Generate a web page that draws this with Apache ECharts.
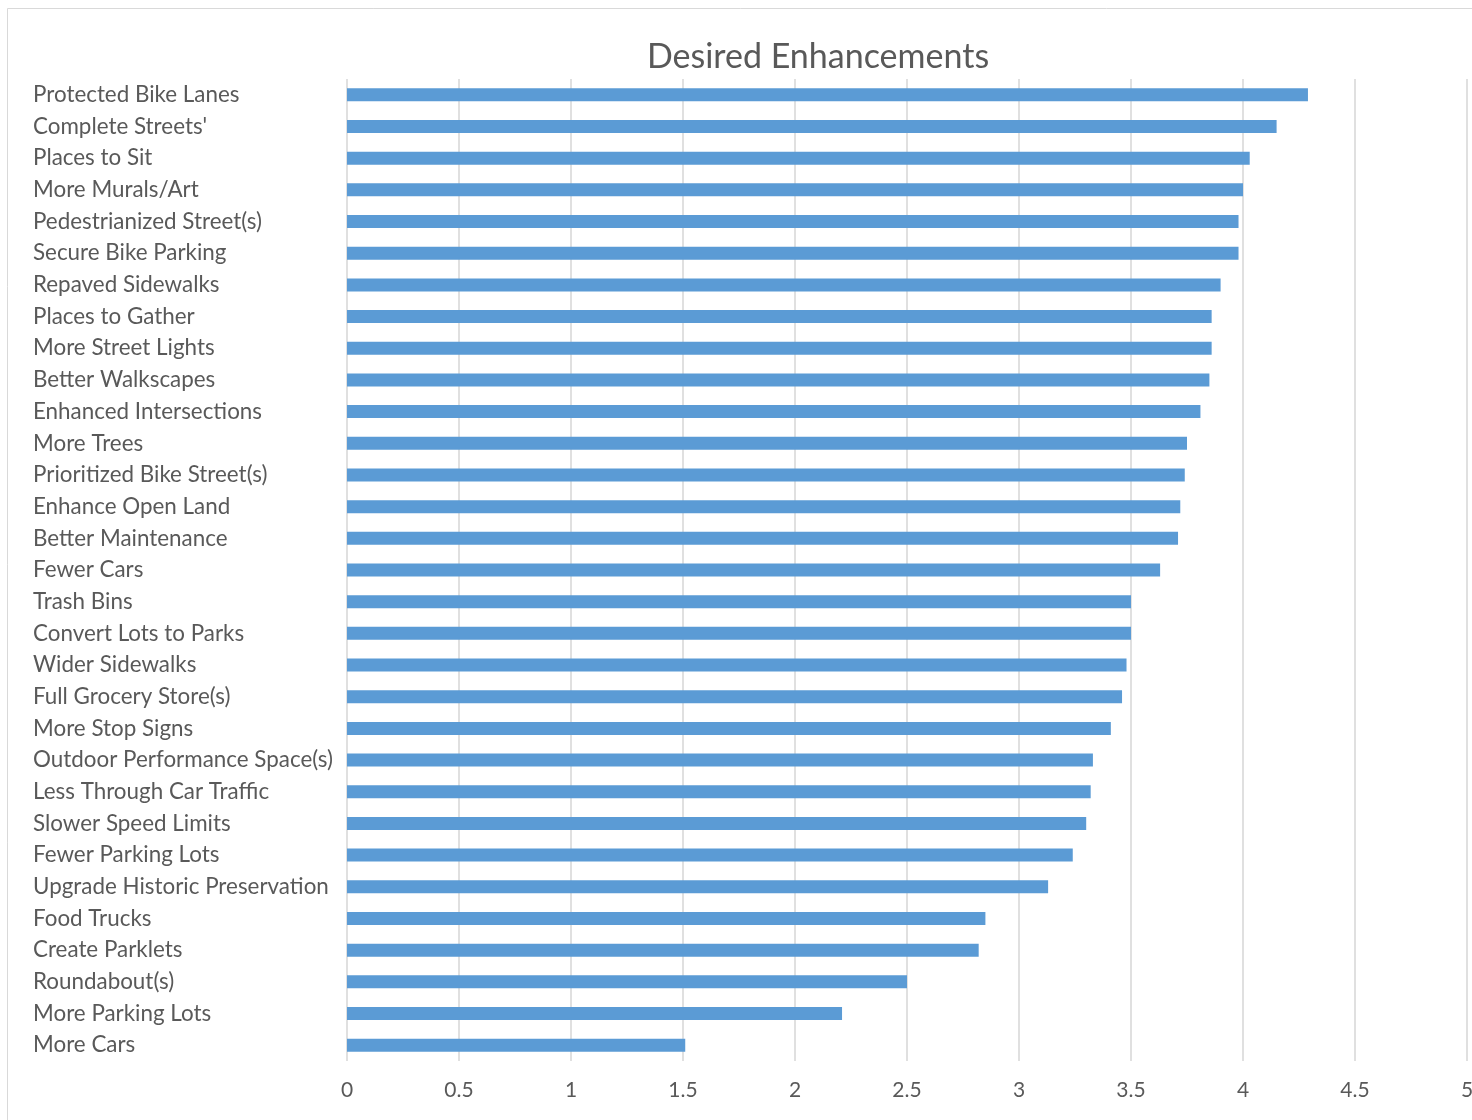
<!DOCTYPE html>
<html>
<head>
<meta charset="utf-8">
<title>Desired Enhancements</title>
<script src="https://cdn.jsdelivr.net/npm/echarts@6/dist/echarts.min.js"></script>
<style>
  html, body { margin: 0; padding: 0; background: #ffffff; }
  #chart { width: 1472px; height: 1120px; }
</style>
</head>
<body>
<div id="chart"></div>
<script>
// Survey items, listed top to bottom
const categories = [
  'Protected Bike Lanes', "Complete Streets'", 'Places to Sit', 'More Murals/Art',
  'Pedestrianized Street(s)', 'Secure Bike Parking', 'Repaved Sidewalks', 'Places to Gather',
  'More Street Lights', 'Better Walkscapes', 'Enhanced Intersections', 'More Trees',
  'Prioritized Bike Street(s)', 'Enhance Open Land', 'Better Maintenance', 'Fewer Cars',
  'Trash Bins', 'Convert Lots to Parks', 'Wider Sidewalks', 'Full Grocery Store(s)',
  'More Stop Signs', 'Outdoor Performance Space(s)', 'Less Through Car Traffic', 'Slower Speed Limits',
  'Fewer Parking Lots', 'Upgrade Historic Preservation', 'Food Trucks', 'Create Parklets',
  'Roundabout(s)', 'More Parking Lots', 'More Cars'
];

// Average rating for each item
const ratings = [
  4.29, 4.15, 4.03, 4.00,
  3.98, 3.98, 3.90, 3.86,
  3.86, 3.85, 3.81, 3.75,
  3.74, 3.72, 3.71, 3.63,
  3.50, 3.50, 3.48, 3.46,
  3.41, 3.33, 3.32, 3.30,
  3.24, 3.13, 2.85, 2.82,
  2.50, 2.21, 1.51
];

// Value axis ticks
const axisMin = 0;
const axisMax = 5;
const axisStep = 0.5;

const chart = echarts.init(document.getElementById('chart'), null, { renderer: 'canvas' });

const textGray = '#595959';
const fontFamily = 'Lato, "Open Sans", sans-serif';

chart.setOption({
  backgroundColor: '#ffffff',
  animation: false,
  graphic: [{
    type: 'rect',
    silent: true,
    shape: { x: 7.5, y: 8.5, width: 1500, height: 1150 },
    style: { fill: 'none', stroke: '#d9d9d9', lineWidth: 1 }
  }],
  title: {
    text: 'Desired Enhancements',
    left: 813,
    top: 35,
    textAlign: 'center',
    textStyle: { color: textGray, fontSize: 34, fontWeight: 'normal', fontFamily: fontFamily }
  },
  grid: {
    left: 347, top: 79, width: 1120, height: 982,
    containLabel: false,
    outerBoundsMode: 'none'
  },
  xAxis: {
    type: 'value',
    min: axisMin,
    max: axisMax,
    interval: axisStep,
    axisLine: { show: false },
    axisTick: { show: false },
    axisLabel: { color: textGray, fontSize: 21, fontFamily: fontFamily, margin: 19 },
    splitLine: { show: true, lineStyle: { color: '#e0e0e0', width: 2 } }
  },
  yAxis: {
    type: 'category',
    data: categories,
    inverse: true,
    axisLine: { show: false },
    axisTick: { show: false },
    axisLabel: {
      color: textGray, fontSize: 22.4, fontFamily: fontFamily,
      align: 'left', margin: 314,
      padding: [5, 0, 0, 0]
    }
  },
  series: [{
    type: 'bar',
    data: ratings,
    barWidth: 13,
    itemStyle: { color: '#5b9bd5' }
  }]
});
</script>
</body>
</html>
